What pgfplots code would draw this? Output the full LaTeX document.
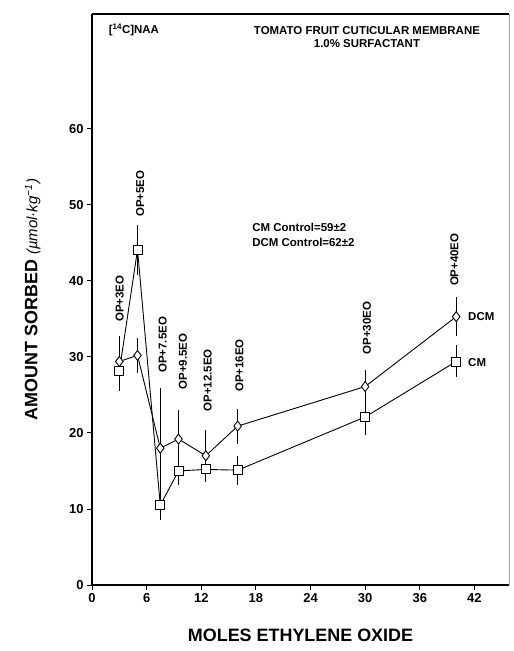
\documentclass[border=0pt]{standalone}
\usepackage{fontspec}
\setmainfont{Liberation Sans}
\usepackage{pgfplots}
\pgfplotsset{compat=1.18}
\pgfplotstableread{
x y e
3 28.1 2.6
5 44.1 3.3
7.5 10.5 2.0
9.5 15.0 1.8
12.5 15.2 1.6
16 15.1 1.9
30 22.1 2.4
40 29.4 2.1
}\cmtable
\pgfplotstableread{
x y e
3 29.4 3.3
5 30.2 2.3
7.5 18.0 7.9
9.5 19.2 3.8
12.5 17.0 3.4
16 20.9 2.3
30 26.1 2.2
40 35.3 2.6
}\dcmtable
\begin{document}
\begin{tikzpicture}
\begin{axis}[name=ax, at={(0,0)}, anchor=south west,
  scale only axis, width=417bp, height=571bp,
  xmin=0, xmax=45.8, ymin=0, ymax=75.1,
  axis x line*=bottom, axis y line*=left,
  axis line style={line width=1.1pt},
  xtick={0,6,...,42}, ytick={0,10,...,60},
  tick align=outside, major tick length=5bp,
  tick style={line width=0.9pt, black},
  /pgf/number format/assume math mode=true,
  tick label style={font=\bfseries\fontsize{13}{13}\selectfont},
  clip=false,
  every axis plot/.append style={black, line width=0.9pt},
]
\addplot[mark=square*, mark size=4.5bp, mark options={fill=white, solid},
  error bars/.cd, y dir=both, y explicit, error mark=none,
  error bar style={line width=0.9pt}]
  table[x=x, y=y, y error=e]{\cmtable};
\addplot[mark=diamond*, mark size=5bp, mark options={fill=white, solid},
  error bars/.cd, y dir=both, y explicit, error mark=none,
  error bar style={line width=0.9pt}]
  table[x=x, y=y, y error=e]{\dcmtable};
\draw[line width=1.1pt] (rel axis cs:0,1) -- (rel axis cs:1,1);
\draw[line width=0.6pt, black!35] (rel axis cs:1,0) -- (rel axis cs:1,1);
\begin{scope}[every node/.style={font=\bfseries\fontsize{11.5}{11.5}\selectfont, rotate=90, anchor=west, inner sep=0pt}]
\node at (3.05,34.6) {OP+3EO};
\node at (5.3,48.4) {OP+5EO};
\node at (7.75,27.9) {OP+7.5EO};
\node at (10.0,25.7) {OP+9.5EO};
\node at (12.7,22.8) {OP+12.5EO};
\node at (16.2,25.4) {OP+16EO};
\node at (30.2,30.3) {OP+30EO};
\node at (39.8,39.3) {OP+40EO};
\end{scope}
\begin{scope}[every node/.style={font=\bfseries\fontsize{11.5}{13}\selectfont, inner sep=0pt}]
\node at (4.6,73) {[\textsuperscript{14}C]NAA};
\node[align=center] at (30.2,72.1) {TOMATO FRUIT CUTICULAR MEMBRANE\\1.0\% SURFACTANT};
\node[anchor=west] at (17.6,47) {CM Control=59±2};
\node[anchor=west] at (17.6,45) {DCM Control=62±2};
\node[anchor=west] at (41.3,35.3) {DCM};
\node[anchor=west] at (41.3,29.3) {CM};
\end{scope}
\end{axis}
\node[font=\bfseries\fontsize{18}{18}\selectfont, anchor=north] at ([yshift=-40bp]ax.south) {MOLES ETHYLENE OXIDE};
\node[font=\bfseries\fontsize{18}{18}\selectfont, rotate=90, anchor=south] at ([xshift=-48bp]ax.west) {AMOUNT SORBED {\mdseries\itshape\fontsize{15}{15}\selectfont(µmol·kg\textsuperscript{−1})}};
\pgfresetboundingbox
\path ([shift={(-92bp,-66bp)}]ax.south west) rectangle ([shift={(5bp,14bp)}]ax.north east);
\end{tikzpicture}
\end{document}
